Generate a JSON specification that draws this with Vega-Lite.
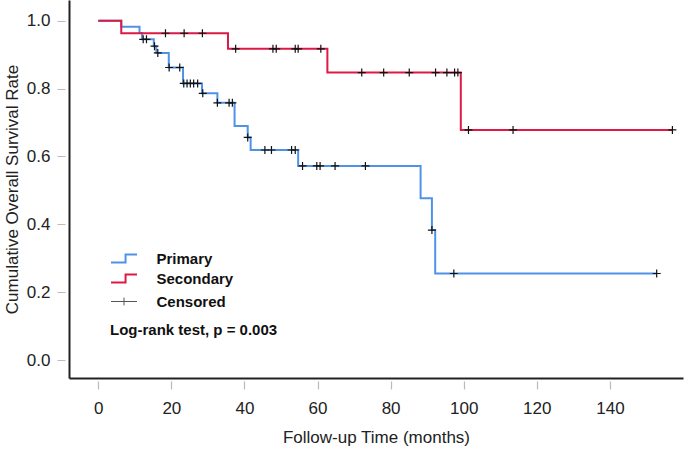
{
  "$schema": "https://vega.github.io/schema/vega-lite/v6.json",
  "width": 614,
  "height": 378,
  "autosize": {"type": "none"},
  "padding": {"left": 69, "top": 0, "right": 2, "bottom": 73},
  "background": "white",
  "config": {
    "view": {"stroke": null},
    "font": "Liberation Sans",
    "axis": {
      "labelFont": "Liberation Sans",
      "labelFontSize": 17,
      "labelColor": "#222222",
      "titleFont": "Liberation Sans",
      "titleFontSize": 17,
      "titleFontWeight": "normal",
      "titleColor": "#222222",
      "domainColor": "#222222",
      "domainWidth": 2,
      "tickColor": "#bbbbbb",
      "tickWidth": 1.2,
      "grid": false
    }
  },
  "datasets": {
    "curves": [
      {"group": "Primary", "t": 0, "s": 1.0},
      {"group": "Primary", "t": 6.3, "s": 0.982},
      {"group": "Primary", "t": 11.3, "s": 0.964},
      {"group": "Primary", "t": 12.0, "s": 0.945},
      {"group": "Primary", "t": 15.2, "s": 0.925},
      {"group": "Primary", "t": 15.9, "s": 0.905},
      {"group": "Primary", "t": 19.3, "s": 0.862},
      {"group": "Primary", "t": 23.2, "s": 0.815},
      {"group": "Primary", "t": 28.4, "s": 0.786},
      {"group": "Primary", "t": 32.6, "s": 0.758},
      {"group": "Primary", "t": 37.3, "s": 0.690},
      {"group": "Primary", "t": 40.9, "s": 0.656},
      {"group": "Primary", "t": 41.7, "s": 0.619},
      {"group": "Primary", "t": 54.7, "s": 0.572},
      {"group": "Primary", "t": 88.2, "s": 0.477},
      {"group": "Primary", "t": 91.3, "s": 0.383},
      {"group": "Primary", "t": 92.2, "s": 0.255},
      {"group": "Primary", "t": 152.8, "s": 0.255},
      {"group": "Secondary", "t": 0, "s": 1.0},
      {"group": "Secondary", "t": 6.3, "s": 0.963},
      {"group": "Secondary", "t": 35.5, "s": 0.917},
      {"group": "Secondary", "t": 62.7, "s": 0.847},
      {"group": "Secondary", "t": 99.2, "s": 0.678},
      {"group": "Secondary", "t": 157.1, "s": 0.678}
    ],
    "censored": [
      {"group": "Primary", "status": "Censored", "t": 12.3, "s": 0.945},
      {"group": "Primary", "status": "Censored", "t": 13.2, "s": 0.945},
      {"group": "Primary", "status": "Censored", "t": 15.4, "s": 0.925},
      {"group": "Primary", "status": "Censored", "t": 16.3, "s": 0.905},
      {"group": "Primary", "status": "Censored", "t": 19.4, "s": 0.862},
      {"group": "Primary", "status": "Censored", "t": 22.3, "s": 0.862},
      {"group": "Primary", "status": "Censored", "t": 23.4, "s": 0.815},
      {"group": "Primary", "status": "Censored", "t": 24.3, "s": 0.815},
      {"group": "Primary", "status": "Censored", "t": 25.2, "s": 0.815},
      {"group": "Primary", "status": "Censored", "t": 26.1, "s": 0.815},
      {"group": "Primary", "status": "Censored", "t": 27.2, "s": 0.815},
      {"group": "Primary", "status": "Censored", "t": 28.6, "s": 0.786},
      {"group": "Primary", "status": "Censored", "t": 32.6, "s": 0.758},
      {"group": "Primary", "status": "Censored", "t": 35.8, "s": 0.758},
      {"group": "Primary", "status": "Censored", "t": 36.7, "s": 0.758},
      {"group": "Primary", "status": "Censored", "t": 40.9, "s": 0.656},
      {"group": "Primary", "status": "Censored", "t": 45.6, "s": 0.619},
      {"group": "Primary", "status": "Censored", "t": 47.4, "s": 0.619},
      {"group": "Primary", "status": "Censored", "t": 52.9, "s": 0.619},
      {"group": "Primary", "status": "Censored", "t": 53.9, "s": 0.619},
      {"group": "Primary", "status": "Censored", "t": 55.9, "s": 0.572},
      {"group": "Primary", "status": "Censored", "t": 59.8, "s": 0.572},
      {"group": "Primary", "status": "Censored", "t": 60.7, "s": 0.572},
      {"group": "Primary", "status": "Censored", "t": 64.8, "s": 0.572},
      {"group": "Primary", "status": "Censored", "t": 73.1, "s": 0.572},
      {"group": "Primary", "status": "Censored", "t": 91.3, "s": 0.383},
      {"group": "Primary", "status": "Censored", "t": 97.3, "s": 0.255},
      {"group": "Primary", "status": "Censored", "t": 152.8, "s": 0.255},
      {"group": "Secondary", "status": "Censored", "t": 18.4, "s": 0.963},
      {"group": "Secondary", "status": "Censored", "t": 23.5, "s": 0.963},
      {"group": "Secondary", "status": "Censored", "t": 28.5, "s": 0.963},
      {"group": "Secondary", "status": "Censored", "t": 37.6, "s": 0.917},
      {"group": "Secondary", "status": "Censored", "t": 47.8, "s": 0.917},
      {"group": "Secondary", "status": "Censored", "t": 48.7, "s": 0.917},
      {"group": "Secondary", "status": "Censored", "t": 53.9, "s": 0.917},
      {"group": "Secondary", "status": "Censored", "t": 54.7, "s": 0.917},
      {"group": "Secondary", "status": "Censored", "t": 60.9, "s": 0.917},
      {"group": "Secondary", "status": "Censored", "t": 72.1, "s": 0.847},
      {"group": "Secondary", "status": "Censored", "t": 78.1, "s": 0.847},
      {"group": "Secondary", "status": "Censored", "t": 85.1, "s": 0.847},
      {"group": "Secondary", "status": "Censored", "t": 92.3, "s": 0.847},
      {"group": "Secondary", "status": "Censored", "t": 95.4, "s": 0.847},
      {"group": "Secondary", "status": "Censored", "t": 97.5, "s": 0.847},
      {"group": "Secondary", "status": "Censored", "t": 98.4, "s": 0.847},
      {"group": "Secondary", "status": "Censored", "t": 101.3, "s": 0.678},
      {"group": "Secondary", "status": "Censored", "t": 113.5, "s": 0.678},
      {"group": "Secondary", "status": "Censored", "t": 157.1, "s": 0.678}
    ]
  },
  "encoding": {
    "x": {
      "field": "t",
      "type": "quantitative",
      "scale": {"domain": [-8, 160], "nice": false, "zero": false},
      "axis": {
        "title": "Follow-up Time (months)",
        "values": [0, 20, 40, 60, 80, 100, 120, 140],
        "tickSize": 11,
        "tickDash": [0, 3, 8],
        "labelPadding": 11,
        "titlePadding": 13
      }
    },
    "y": {
      "field": "s",
      "type": "quantitative",
      "scale": {"domain": [-0.053, 1.061], "nice": false, "zero": false},
      "axis": {
        "title": "Cumulative Overall Survival Rate",
        "values": [0, 0.2, 0.4, 0.6, 0.8, 1.0],
        "format": ".1f",
        "tickSize": 12,
        "tickDash": [0, 4, 8],
        "labelPadding": 7,
        "titlePadding": 5
      }
    }
  },
  "layer": [
    {
      "data": {"name": "curves"},
      "mark": {"type": "line", "interpolate": "step-after", "strokeWidth": 2},
      "encoding": {
        "color": {
          "field": "group",
          "type": "nominal",
          "scale": {"domain": ["Primary", "Secondary"], "range": ["#4F93E8", "#DC1A45"]},
          "legend": {
            "title": null,
            "orient": "none",
            "legendX": 41,
            "legendY": 251,
            "padding": 0,
            "symbolType": "M-2,0.6H0.24V-0.6H2",
            "symbolSize": 169,
            "symbolStrokeWidth": 2,
            "symbolFillColor": "transparent",
            "symbolOffset": 6.5,
            "labelOffset": 25,
            "labelFont": "Liberation Sans",
            "labelFontSize": 15,
            "labelFontWeight": "bold",
            "labelColor": "#111111",
            "rowPadding": 3
          }
        }
      }
    },
    {
      "data": {"name": "censored"},
      "mark": {"type": "point", "shape": "M-1,0H1M0,-1V1", "filled": false, "color": "#111111", "strokeWidth": 1.2, "size": 64},
      "encoding": {
        "opacity": {
          "field": "status",
          "type": "nominal",
          "scale": {"domain": ["Censored"], "range": [1]},
          "legend": {
            "title": "Log-rank test, p = 0.003",
            "titleOrient": "bottom",
            "titleAnchor": "start",
            "titleFont": "Liberation Sans",
            "titleFontSize": 15,
            "titleFontWeight": "bold",
            "titleColor": "#111111",
            "titlePadding": 13,
            "orient": "none",
            "legendX": 41,
            "legendY": 294,
            "padding": 0,
            "symbolType": "M-2,0H2M0,-0.6V0.6",
            "symbolSize": 169,
            "symbolStrokeWidth": 1,
            "symbolStrokeColor": "#555555",
            "symbolFillColor": "transparent",
            "symbolOffset": 6.5,
            "labelOffset": 25,
            "labelFont": "Liberation Sans",
            "labelFontSize": 15,
            "labelFontWeight": "bold",
            "labelColor": "#111111"
          }
        }
      }
    }
  ]
}
